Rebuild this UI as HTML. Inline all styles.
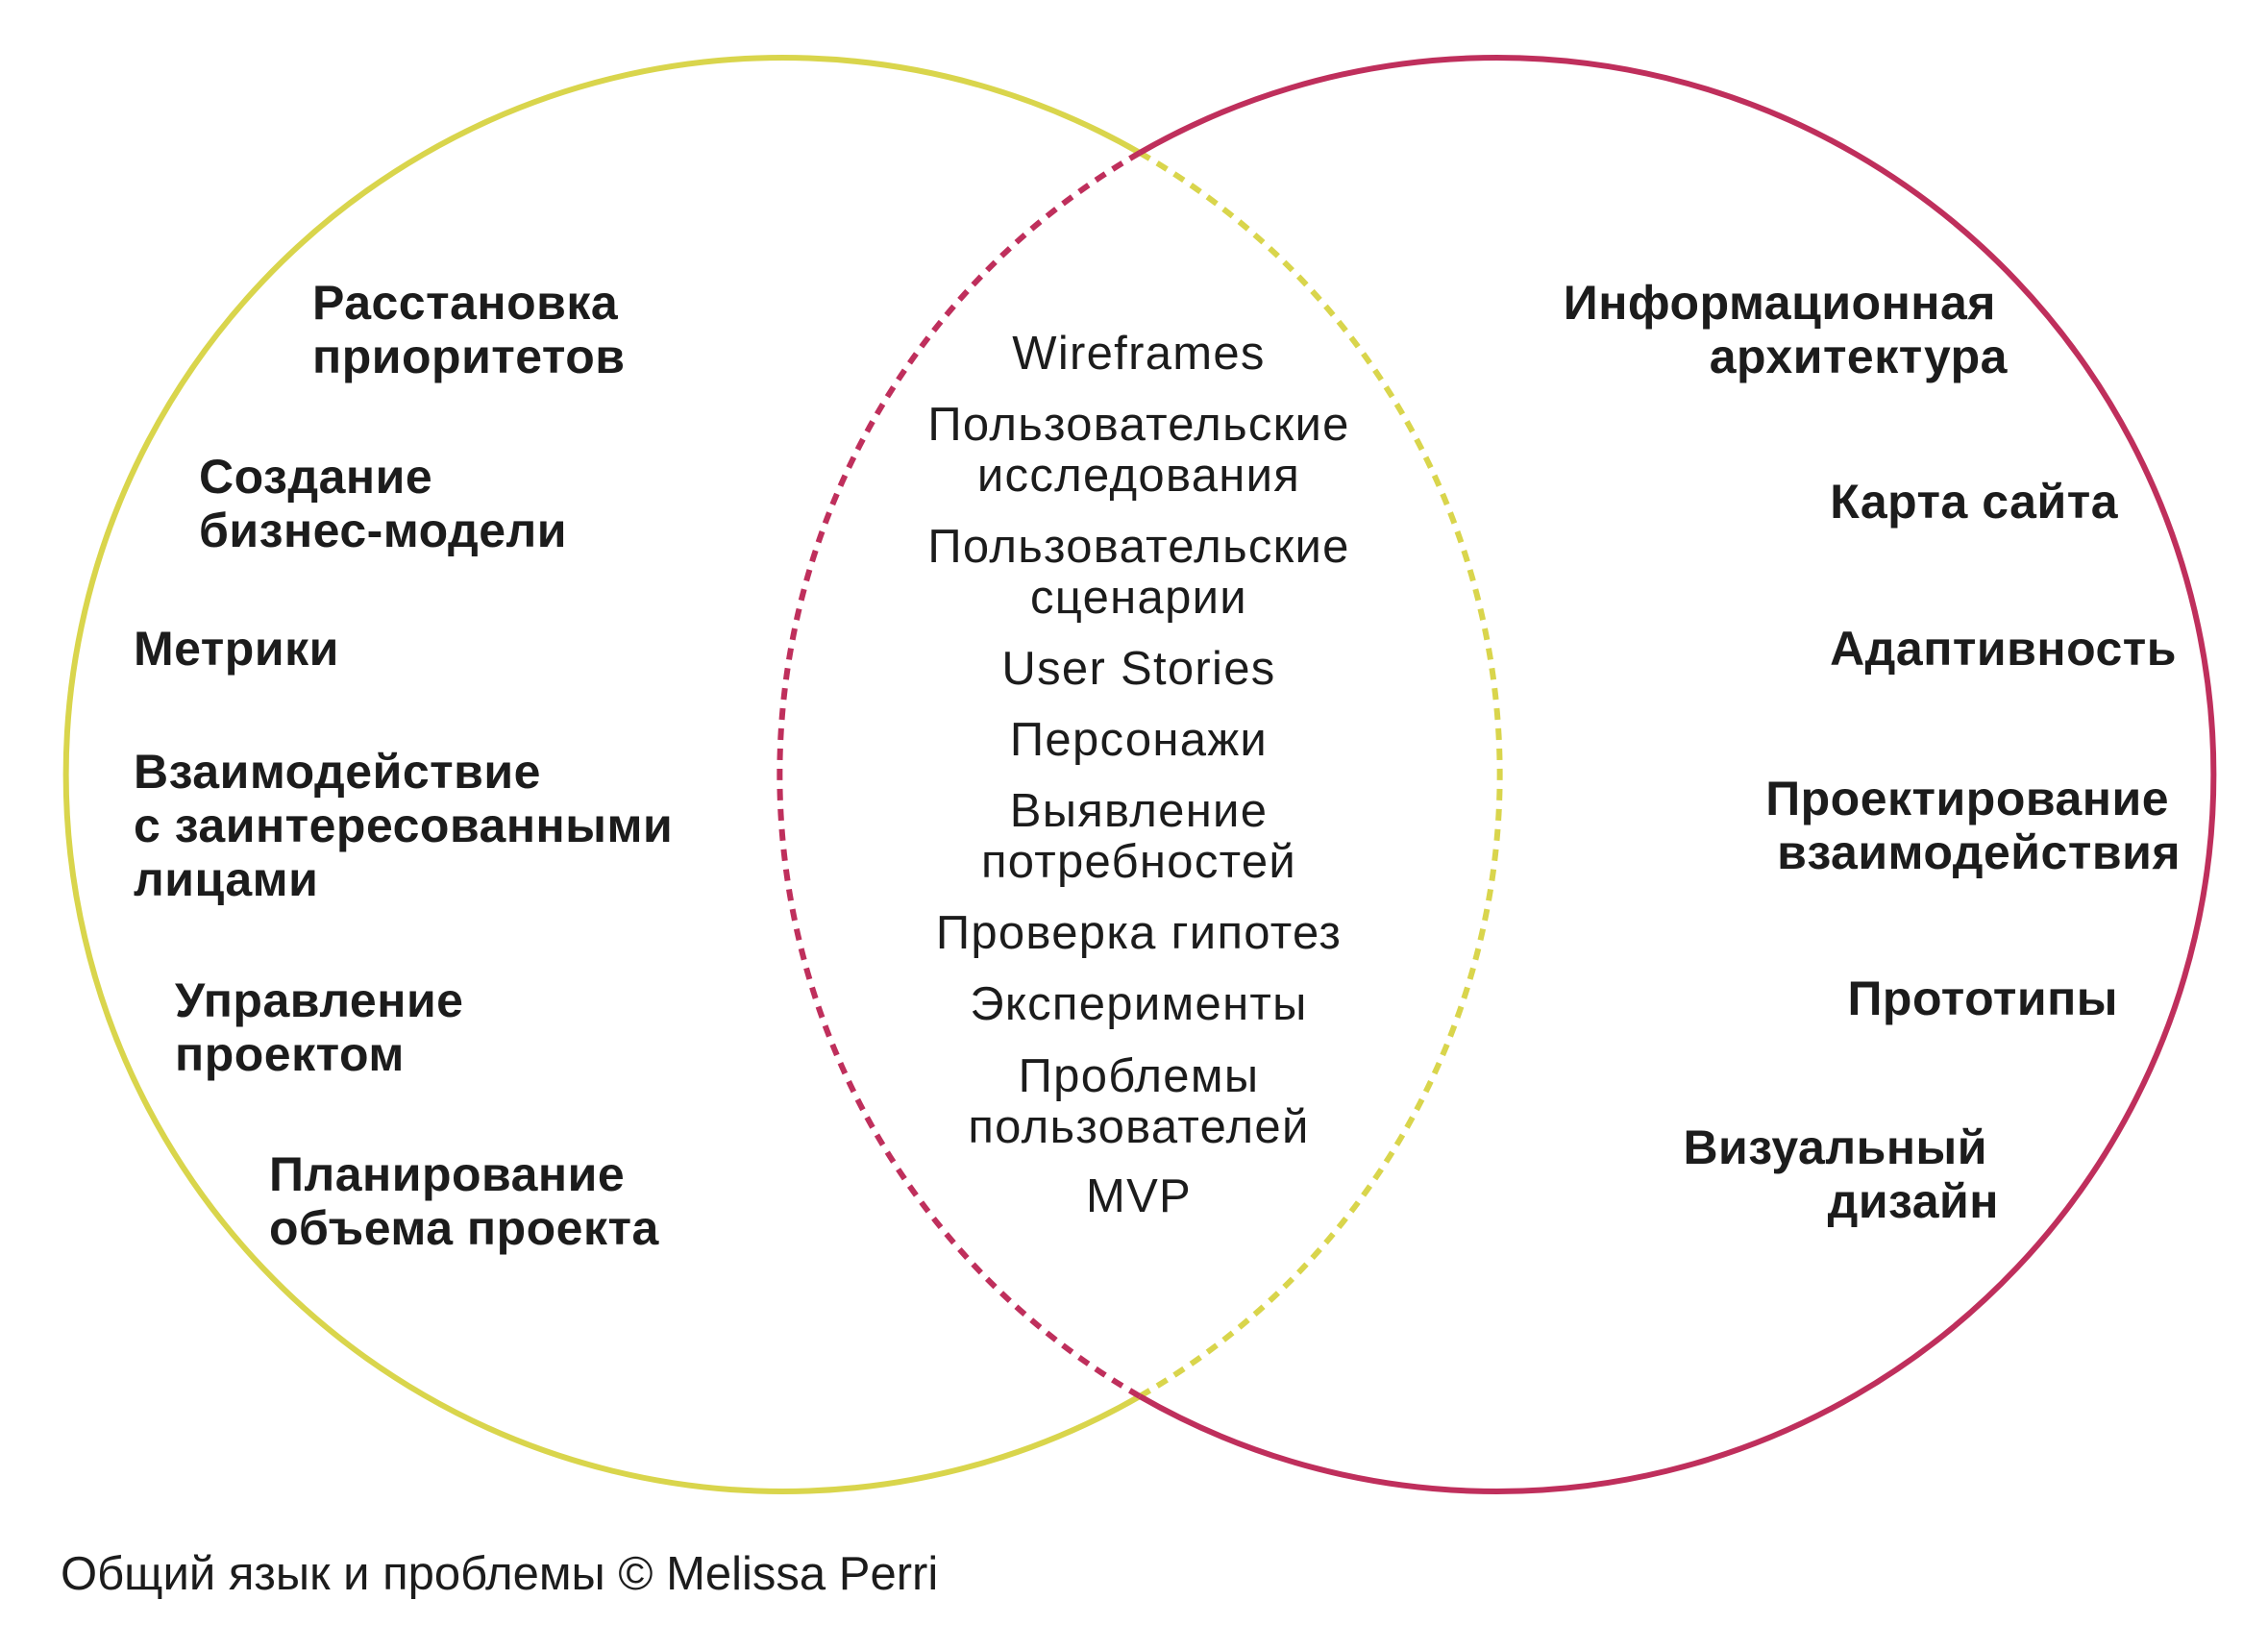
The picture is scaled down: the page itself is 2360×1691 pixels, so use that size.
<!DOCTYPE html>
<html><head><meta charset="utf-8"><style>
body{margin:0;width:2360px;height:1691px;background:#fff;position:relative;overflow:hidden;font-family:"Liberation Sans","Noto Sans CJK SC",sans-serif;color:#1c1c1c}
svg{position:absolute;left:0;top:0}
.t{position:absolute;white-space:nowrap;line-height:56px;height:56px}
.b{font-weight:bold;font-size:50px;letter-spacing:0.5px}
.c{font-size:49px;letter-spacing:1.3px;transform:translateX(-50%);left:1185px}
</style></head><body>
<svg width="2360" height="1691" viewBox="0 0 2360 1691">
<g fill="none" stroke-width="6">
<path d="M1186,159 A746,746 0 1 0 1186,1453" stroke="#d9d54c"/>
<path d="M1186,159 A746,746 0 0 1 1186,1453" stroke="#d9d54c" stroke-dasharray="12 9"/>
<path d="M1186,159 A746,746 0 1 1 1186,1453" stroke="#bf2f5c"/>
<path d="M1186,159 A746,746 0 0 0 1186,1453" stroke="#bf2f5c" stroke-dasharray="12 9"/>
</g>
</svg>
<div class="t b" style="left:325px;top:287px">Расстановка</div>
<div class="t b" style="left:325px;top:343px">приоритетов</div>
<div class="t b" style="left:207px;top:468px">Создание</div>
<div class="t b" style="left:207px;top:524px">бизнес-модели</div>
<div class="t b" style="left:139px;top:647px">Метрики</div>
<div class="t b" style="left:139px;top:775px">Взаимодействие</div>
<div class="t b" style="left:139px;top:831px">с заинтересованными</div>
<div class="t b" style="left:139px;top:887px">лицами</div>
<div class="t b" style="left:182px;top:1013px">Управление</div>
<div class="t b" style="left:182px;top:1069px">проектом</div>
<div class="t b" style="left:280px;top:1194px">Планирование</div>
<div class="t b" style="left:280px;top:1250px">объема проекта</div>

<div class="t b" style="right:283px;top:287px">Информационная</div>
<div class="t b" style="right:271px;top:343px">архитектура</div>
<div class="t b" style="right:156px;top:494px">Карта сайта</div>
<div class="t b" style="right:95px;top:647px">Адаптивность</div>
<div class="t b" style="right:103px;top:803px">Проектирование</div>
<div class="t b" style="right:91px;top:859px">взаимодействия</div>
<div class="t b" style="right:156px;top:1011px">Прототипы</div>
<div class="t b" style="right:292px;top:1166px">Визуальный</div>
<div class="t b" style="right:280px;top:1222px">дизайн</div>

<div class="t c" style="top:340px">Wireframes</div>
<div class="t c" style="top:414px">Пользовательские</div>
<div class="t c" style="top:467px">исследования</div>
<div class="t c" style="top:541px">Пользовательские</div>
<div class="t c" style="top:594px">сценарии</div>
<div class="t c" style="top:668px">User Stories</div>
<div class="t c" style="top:742px">Персонажи</div>
<div class="t c" style="top:816px">Выявление</div>
<div class="t c" style="top:869px">потребностей</div>
<div class="t c" style="top:943px">Проверка гипотез</div>
<div class="t c" style="top:1017px">Эксперименты</div>
<div class="t c" style="top:1092px">Проблемы</div>
<div class="t c" style="top:1145px">пользователей</div>
<div class="t c" style="top:1217px">MVP</div>

<div class="t" style="left:63px;top:1610px;font-size:49px">Общий язык и проблемы © Melissa Perri</div>
</body></html>
